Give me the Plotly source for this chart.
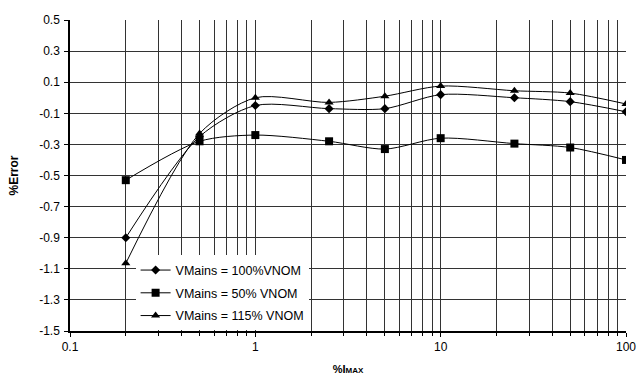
import plotly.graph_objects as go

x_vals = [0.2, 0.5, 1, 2.5, 5, 10, 25, 50, 100]
v100 = [-0.90, -0.25, -0.05, -0.07, -0.07, 0.02, 0.00, -0.025, -0.09]
v50 = [-0.53, -0.28, -0.24, -0.28, -0.33, -0.26, -0.295, -0.32, -0.40]
v115 = [-1.065, -0.23, 0.00, -0.03, 0.01, 0.075, 0.045, 0.03, -0.04]
names = ["VMains = 100%VNOM", "VMains = 50% VNOM", "VMains = 115% VNOM"]
y_ticks = [-1.5, -1.3, -1.1, -0.9, -0.7, -0.5, -0.3, -0.1, 0.1, 0.3, 0.5]
y_labels = ["-1.5", "-1.3", "-1.1", "-0.9", "-0.7", "-0.5", "-0.3", "-0.1", "0.1", "0.3", "0.5"]

fig = go.Figure()
for i, (ys, name, sym, sz) in enumerate([(v100, names[0], "diamond", 7),
                                         (v50, names[1], "square", 8),
                                         (v115, names[2], "triangle-up", 8)]):
    fig.add_trace(go.Scatter(
        x=x_vals, y=ys, name=name, mode="lines+markers", legendgroup=f"g{i}",
        line=dict(color="black", width=1, shape="spline", smoothing=0.8),
        marker=dict(symbol=sym, size=sz, color="black"),
    ))

fig.update_layout(
    width=638, height=381,
    margin=dict(l=70, r=12, t=20, b=50, autoexpand=False),
    paper_bgcolor="white", plot_bgcolor="white",
    font=dict(family="Liberation Sans, Arial, sans-serif", size=12, color="black"),
    legend=dict(x=0.118, y=0.243, xanchor="left", yanchor="top",
                bgcolor="white", borderwidth=0, font=dict(size=12.5),
                tracegroupgap=3.5, itemwidth=30),
    showlegend=True,
)
fig.update_xaxes(
    type="log", range=[-1, 2], automargin=False,
    tickvals=[0.1, 1, 10, 100], ticktext=["0.1", "1", "10", "100"],
    ticks="outside", ticklen=4, tickcolor="black", ticklabelstandoff=0,
    ticklabeloverflow="allow",
    showline=True, linecolor="black", linewidth=1.5,
    showgrid=True, gridcolor="#333333", gridwidth=1,
    minor=dict(showgrid=True, gridcolor="#333333", gridwidth=1,
               ticks="outside", ticklen=3, tickcolor="black",
               tickvals=[0.2, 0.3, 0.4, 0.5, 0.6, 0.7, 0.8, 0.9,
                         2, 3, 4, 5, 6, 7, 8, 9,
                         20, 30, 40, 50, 60, 70, 80, 90]),
    title=dict(text="<b>%I<span style='font-size:8px'>MAX</span></b>",
               font=dict(size=11), standoff=12),
    zeroline=False,
)
fig.update_yaxes(
    range=[-1.5, 0.5], automargin=False,
    tickvals=y_ticks, ticktext=y_labels,
    ticks="outside", ticklen=4, tickcolor="black", ticklabelstandoff=2,
    showline=True, linecolor="black", linewidth=1.5,
    showgrid=True, gridcolor="#333333", gridwidth=1,
    title=dict(text="<b>%Error</b>", font=dict(size=12), standoff=18),
    zeroline=False,
)

# remove the default page margin and scrollbars so the figure fills the window exactly
post = ("document.body.style.margin='0';"
        "document.documentElement.style.overflow='hidden';"
        "document.body.style.overflow='hidden';")
fig.write_html("out.html", post_script=post, config={"displayModeBar": False})
